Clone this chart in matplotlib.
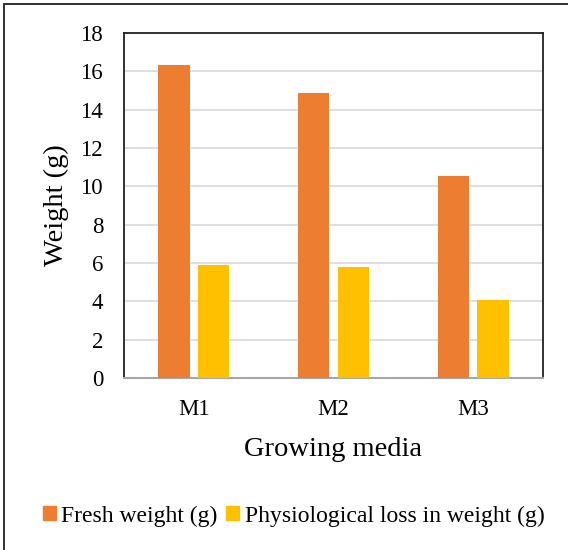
import matplotlib.pyplot as plt
import matplotlib.patches as mpatches
import numpy as np

plt.rcParams['font.family'] = ['Liberation Serif', 'DejaVu Serif']

media = ["M1", "M2", "M3"]
fresh_weight = [16.35, 14.85, 10.55]
pl_weight = [5.88, 5.78, 4.08]
series_names = ["Fresh weight (g)", "Physiological loss in weight (g)"]
y_ticks = [0, 2, 4, 6, 8, 10, 12, 14, 16, 18]

orange = "#ED7D31"
gold = "#FFC000"

fig = plt.figure(figsize=(5.68, 5.5), dpi=100)
ax = fig.add_axes([124 / 568, 1 - 378 / 550, (543 - 124) / 568, (378 - 33) / 550])

x = np.arange(len(media))
w = 0.222
off = 0.142
ax.bar(x - off, fresh_weight, w, color=orange, label=series_names[0], zorder=3)
ax.bar(x + off, pl_weight, w, color=gold, label=series_names[1], zorder=3)

ax.set_xlim(-0.5, 2.5)
ax.set_ylim(0, 18)
ax.set_yticks(y_ticks)
ax.set_xticks(x)
ax.set_xticklabels(media)
ax.tick_params(axis='both', length=0, labelsize=16.5, colors='black')
ax.tick_params(axis='y', pad=15)
ax.tick_params(axis='x', pad=15)
ax.yaxis.grid(True, color="#D9D9D9", linewidth=1.2, zorder=0)
ax.set_axisbelow(True)

for s in ['left', 'top', 'right']:
    ax.spines[s].set_color('#222222')
    ax.spines[s].set_linewidth(1.3)
ax.spines['bottom'].set_color('#A6A6A6')
ax.spines['bottom'].set_linewidth(1.5)

ax.set_ylabel("Weight (g)", fontsize=20.5, labelpad=8)
ax.set_xlabel("Growing media", fontsize=20.5, labelpad=12)

handles = [mpatches.Patch(color=orange), mpatches.Patch(color=gold)]
fig.legend(handles, series_names, loc='center', bbox_to_anchor=(0.517, 1 - 516 / 550),
           ncol=2, frameon=False, fontsize=17, handlelength=0.55, handleheight=0.55,
           handletextpad=0.25, columnspacing=0.35)

# outer chart frame
fig.patches.append(mpatches.Rectangle((4 / 568, -0.1), 1.2, 1 - 4 / 550 + 0.1,
                                      transform=fig.transFigure, fill=False,
                                      edgecolor='#222222', linewidth=1.3))

fig.savefig("out.png", dpi=100)
